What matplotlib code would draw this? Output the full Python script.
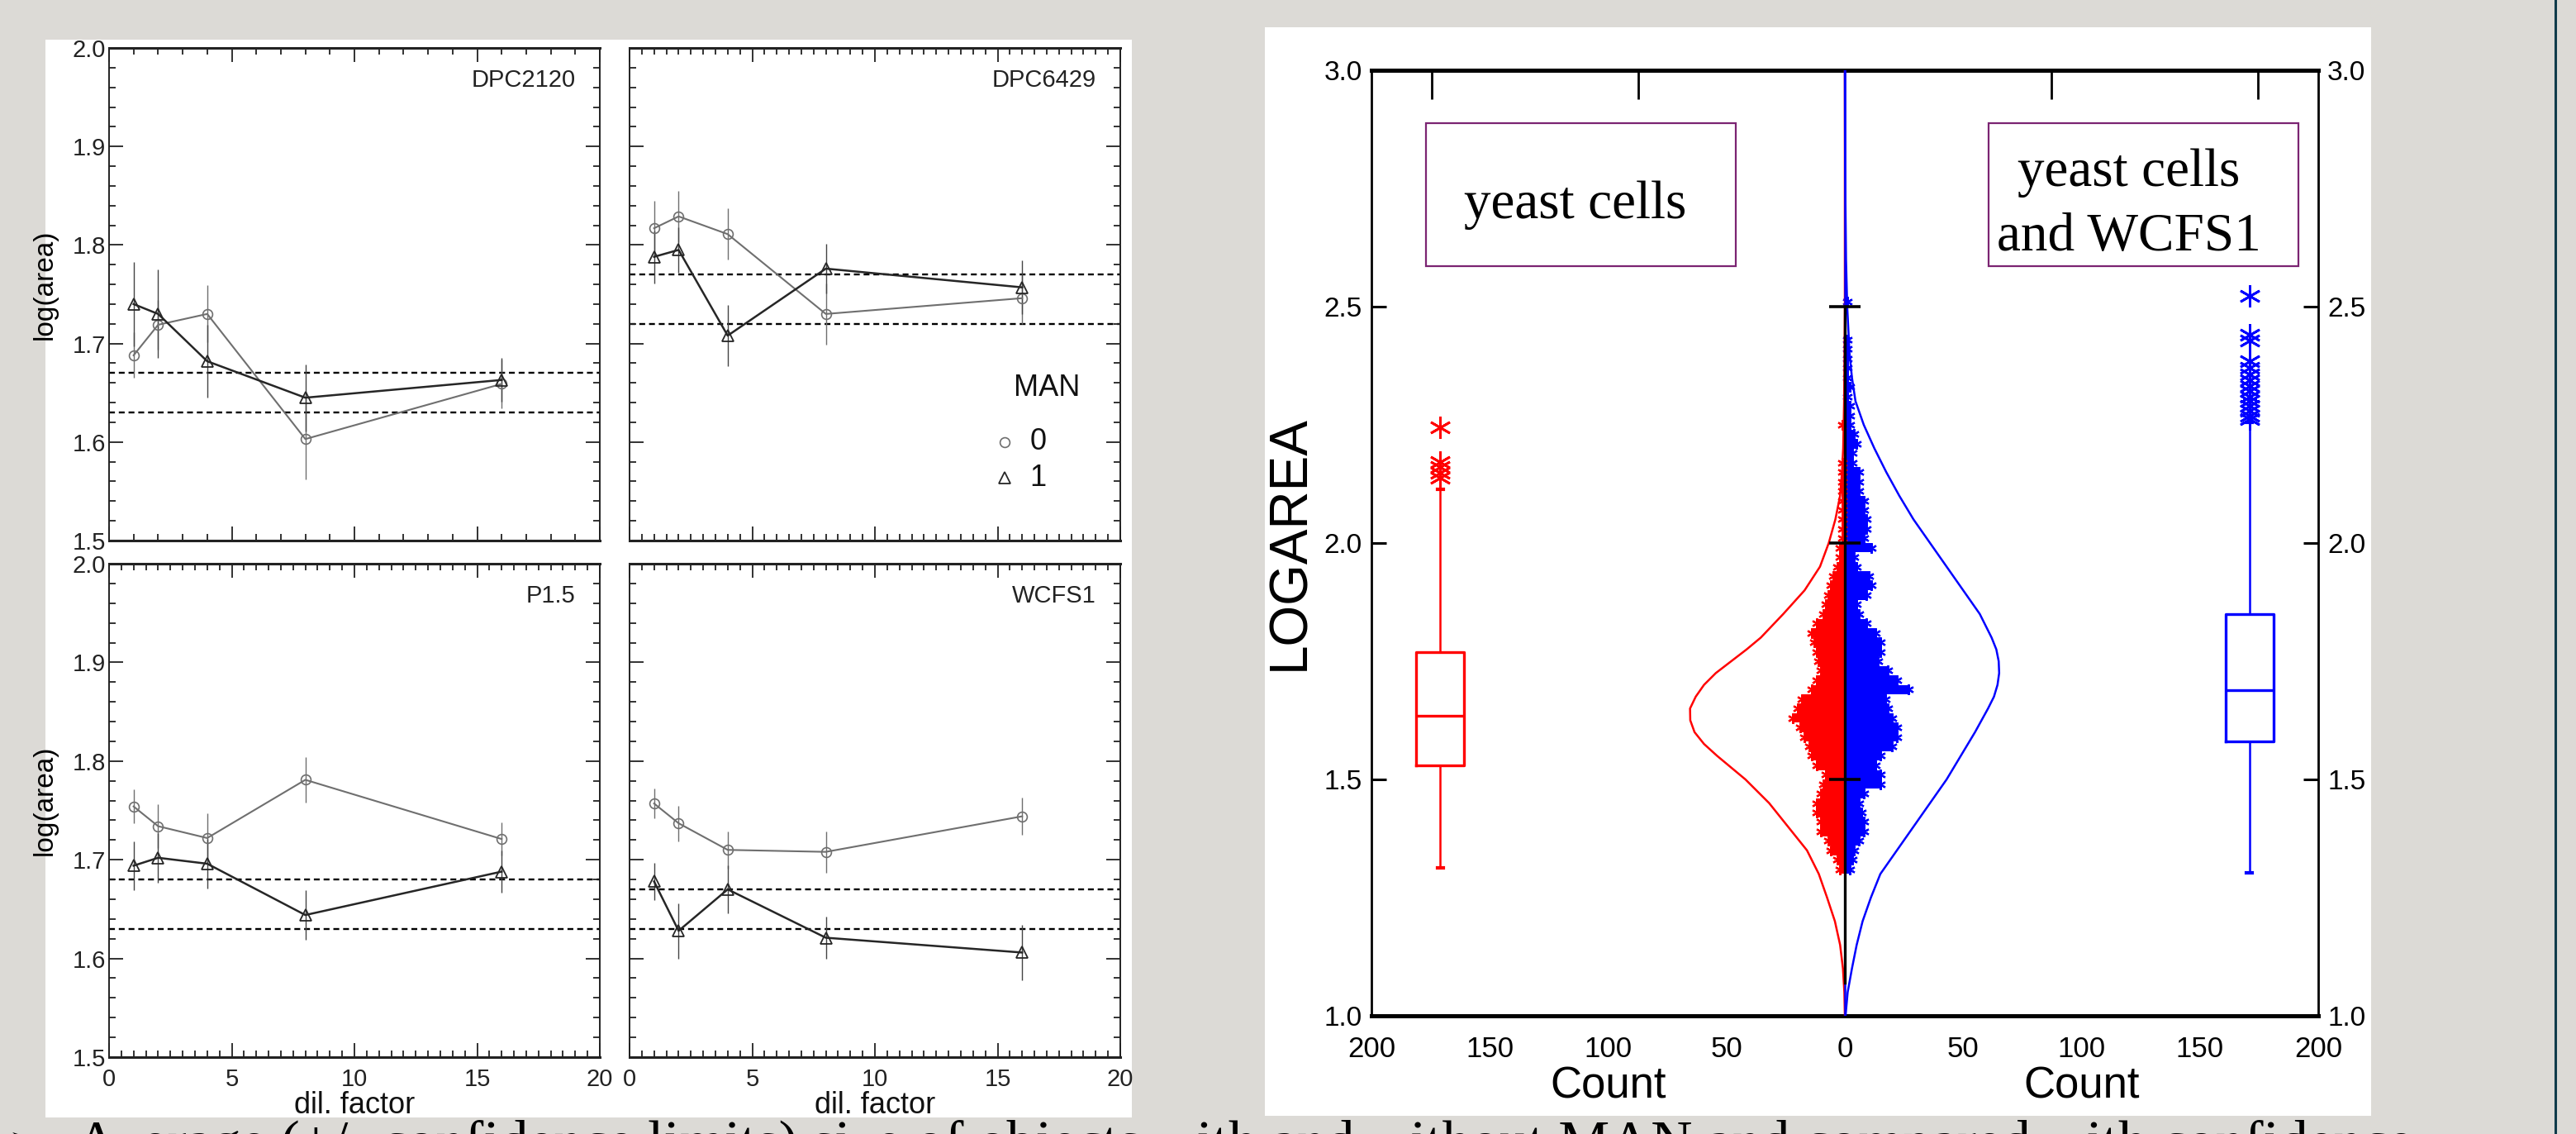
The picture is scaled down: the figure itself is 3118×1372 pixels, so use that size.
import numpy as np
import matplotlib
matplotlib.use('Agg')
import matplotlib.pyplot as plt
from matplotlib.patches import Rectangle
from matplotlib.lines import Line2D
from matplotlib.ticker import MultipleLocator, FixedLocator, FormatStrFormatter, FuncFormatter

# ---------------- data: left panel (log(area) vs dilution factor) ----------------
dil_factor = [1, 2, 4, 8, 16]
panel_names = ['DPC2120', 'DPC6429', 'P1.5', 'WCFS1']
man0_mean = [[1.688, 1.719, 1.730, 1.603, 1.659],
             [1.817, 1.829, 1.811, 1.730, 1.746],
             [1.754, 1.734, 1.722, 1.781, 1.721],
             [1.757, 1.737, 1.710, 1.708, 1.744]]
man0_err = [[0.023, 0.025, 0.029, 0.041, 0.025],
            [0.028, 0.026, 0.026, 0.031, 0.026],
            [0.017, 0.022, 0.025, 0.023, 0.017],
            [0.015, 0.018, 0.019, 0.021, 0.019]]
man1_mean = [[1.740, 1.730, 1.682, 1.645, 1.663],
             [1.788, 1.795, 1.708, 1.776, 1.757],
             [1.694, 1.702, 1.696, 1.644, 1.688],
             [1.678, 1.628, 1.670, 1.621, 1.606]]
man1_err = [[0.043, 0.045, 0.037, 0.034, 0.022],
            [0.027, 0.023, 0.031, 0.025, 0.027],
            [0.025, 0.025, 0.025, 0.025, 0.021],
            [0.019, 0.028, 0.024, 0.021, 0.028]]
ref_lines = [[1.670, 1.630], [1.770, 1.720], [1.680, 1.630], [1.670, 1.630]]
legend_title = 'MAN'
legend_labels = ['0', '1']

# ---------------- data: right panel (back-to-back histogram of LOGAREA) ----------------
bin_centers = np.round(np.arange(1.31, 2.535, 0.02), 2)
red_counts = np.array([2, 3, 6, 7, 10, 10, 12, 12, 10, 9, 8, 12, 14, 15, 17, 19, 22, 20, 18, 14,
                       12, 10, 11, 12, 13, 14, 12, 9, 8, 7, 6, 5, 3, 2, 2, 1, 1, 1, 1, 1,
                       1, 1, 1, 1, 0, 0, 0, 1, 0, 0, 0, 0, 0, 0, 0, 0, 0, 0, 0, 0, 0, 0])
blue_counts = np.array([2, 3, 4, 6, 8, 8, 7, 6, 8, 15, 15, 13, 15, 20, 22, 22, 20, 18, 17, 27,
                        22, 18, 14, 15, 15, 13, 9, 6, 5, 9, 11, 10, 5, 4, 11, 8, 9, 9, 8, 8,
                        6, 6, 6, 3, 3, 5, 4, 2, 2, 2, 1, 2, 1, 1, 1, 1, 1, 0, 0, 0, 1, 0])
assert len(red_counts) == len(bin_centers) == len(blue_counts)

red_curve_y = [1.00, 1.05, 1.10, 1.15, 1.20, 1.25, 1.30, 1.35, 1.40, 1.45, 1.50, 1.55, 1.575,
               1.60, 1.625, 1.65, 1.675, 1.70, 1.725, 1.75, 1.775, 1.80, 1.85, 1.90, 1.95, 2.00,
               2.05, 2.10, 2.15, 2.20, 2.30, 2.50, 3.00]
red_curve_n = [0, 0.2, 0.8, 2.0, 4.2, 7.5, 11, 16, 24, 32, 42, 54, 59.5,
               63.5, 65.3, 65.4, 63, 59.5, 54.5, 48, 41.5, 35.5, 26, 17, 10.5, 6.8,
               4, 2, 1.2, 0.7, 0.3, 0, 0]
blue_curve_y = [1.00, 1.05, 1.10, 1.15, 1.20, 1.25, 1.30, 1.35, 1.40, 1.45, 1.50, 1.55, 1.60,
                1.65, 1.675, 1.70, 1.725, 1.75, 1.775, 1.80, 1.85, 1.90, 1.95, 2.00, 2.05, 2.10,
                2.15, 2.20, 2.25, 2.30, 2.35, 2.40, 2.45, 2.50, 2.60, 2.80, 3.00]
blue_curve_n = [0.3, 1.2, 3, 5, 7.5, 11, 15, 22, 29, 36, 43, 49, 55,
                60.5, 63, 64.5, 65.2, 65, 64, 62, 57, 50, 43, 36, 29, 23,
                17.5, 12.5, 8, 4.5, 3, 2, 1.5, 1, 0.5, 0.1, 0]

red_box = dict(q1=1.529, med=1.634, q3=1.769, whislo=1.313, whishi=2.114,
               fliers=[2.138, 2.148, 2.160, 2.172, 2.245])
blue_box = dict(q1=1.581, med=1.688, q3=1.850, whislo=1.302, whishi=2.255,
                fliers=[2.262, 2.270, 2.280, 2.290, 2.300, 2.310, 2.322, 2.333, 2.344,
                        2.356, 2.370, 2.385, 2.428, 2.441, 2.523])
box_positions = [-171, 171]
count_ticks = [-200, -150, -100, -50, 0, 50, 100, 150, 200]
top_ticks = [-174.5, -87.2, 87.2, 174.5]
center_marks = [1.5, 2.0, 2.5]
box_labels = ['yeast cells', 'yeast cells\nand WCFS1']
bottom_text = 'Average (+/- confidence limits) size of objects with and without MAN and compared with confidence'

# ---------------- figure ----------------
W, H = 3118, 1372
SANS = ['Liberation Sans', 'DejaVu Sans']
NARROW = ['Liberation Sans Narrow', 'DejaVu Sans Condensed', 'Liberation Sans', 'DejaVu Sans']
SERIF = ['Liberation Serif', 'DejaVu Serif']
plt.rcParams['font.family'] = NARROW

fig = plt.figure(figsize=(W / 100, H / 100), dpi=100)
fig.patch.set_facecolor('#dcdad6')


def rect_px(x0, y0, x1, y1):
    return [x0 / W, 1 - y1 / H, (x1 - x0) / W, (y1 - y0) / H]


def add_bg(x0, y0, x1, y1, color, z=-5):
    fig.add_artist(Rectangle((x0 / W, 1 - y1 / H), (x1 - x0) / W, (y1 - y0) / H,
                             transform=fig.transFigure, facecolor=color,
                             edgecolor='none', zorder=z))


add_bg(55, 48, 1370, 1352, 'white')
add_bg(1531, 33, 2870, 1350, 'white')
fig.add_artist(Line2D([3093 / W, 3093 / W], [0, 1], transform=fig.transFigure,
                      color='#0f3b4a', lw=2.2, zorder=-4))

# ---------------- left 2x2 panel ----------------
boxes = [(132, 58, 726, 654), (762, 58, 1356, 654), (132, 682, 726, 1279), (762, 682, 1356, 1279)]
c0, c1 = '#6f6f6f', '#262626'
for i, box in enumerate(boxes):
    ax = fig.add_axes(rect_px(*box))
    ax.set_xlim(0, 20)
    ax.set_ylim(1.5, 2.0)
    for yv in ref_lines[i]:
        ax.axhline(yv, color='black', lw=1.7, ls=(0, (3.0, 2.0)), zorder=1)
    ax.errorbar(dil_factor, man0_mean[i], yerr=man0_err[i], color=c0, lw=1.5, marker='o', ms=8.5,
                mfc='none', mec=c0, mew=1.2, elinewidth=1.0, capsize=0, zorder=3)
    ax.errorbar(dil_factor, man1_mean[i], yerr=man1_err[i], color=c1, lw=1.8, marker='^', ms=9.5,
                mfc='none', mec=c1, mew=1.3, elinewidth=1.0, ecolor='#444444', capsize=0, zorder=3)
    ax.text(0.95, 0.934, panel_names[i], transform=ax.transAxes, ha='right', va='center',
            fontsize=21, color='#222222')
    ax.xaxis.set_major_locator(MultipleLocator(5))
    ax.xaxis.set_minor_locator(MultipleLocator(1 if i == 0 else 0.5))
    ax.yaxis.set_major_locator(MultipleLocator(0.1))
    ax.yaxis.set_minor_locator(MultipleLocator(0.02))
    ax.yaxis.set_major_formatter(FormatStrFormatter('%.1f'))
    ax.tick_params(which='both', direction='in', top=True, right=True, width=1.3, color='#222222')
    ax.tick_params(which='major', length=12)
    ax.tick_params(which='minor', length=5.5)
    ax.tick_params(axis='y', pad=3, labelsize=21, labelcolor='#222222')
    ax.tick_params(axis='x', pad=9, labelsize=21, labelcolor='#222222')
    ax.tick_params(labelleft=(i % 2 == 0), labelbottom=(i >= 2))
    for s in ax.spines.values():
        s.set_linewidth(1.4)
        s.set_color('#222222')
    ax.spines['top'].set_linewidth(2.2)
    ax.spines['bottom'].set_linewidth(2.2)
    if i % 2 == 0:
        ax.set_ylabel('log(area)', family=SANS, fontsize=24)
        ax.yaxis.set_label_coords(-0.105, 0.52)
    if i >= 2:
        ax.set_xlabel('dil. factor', fontsize=26, color='#111111')
        ax.xaxis.set_label_coords(0.5, -0.068)
    if i == 1:
        ax.text(0.85, 0.31, legend_title, transform=ax.transAxes, ha='center', va='center',
                fontsize=26, color='#111111')
        ax.plot([0.764], [0.20], transform=ax.transAxes, marker='o', ms=8.5, mfc='none',
                mec=c0, mew=1.2, ls='none')
        ax.plot([0.764], [0.127], transform=ax.transAxes, marker='^', ms=9.5, mfc='none',
                mec=c1, mew=1.3, ls='none')
        ax.text(0.832, 0.20, legend_labels[0], transform=ax.transAxes, ha='center',
                va='center', fontsize=26, color='#111111')
        ax.text(0.832, 0.127, legend_labels[1], transform=ax.transAxes, ha='center',
                va='center', fontsize=26, color='#111111')

# ---------------- right panel ----------------
axR = fig.add_axes(rect_px(1660, 85, 2806, 1229))
axR.set_xlim(-200, 200)
axR.set_ylim(1.0, 3.0)
axR.set_facecolor('white')

# histogram (dot-stacked bars)
axR.barh(bin_centers, -red_counts, height=0.02, color='red', lw=0, zorder=2)
axR.barh(bin_centers, blue_counts, height=0.02, color='blue', lw=0, zorder=2)
nzr = red_counts > 0
nzb = blue_counts > 0
axR.plot(-red_counts[nzr], bin_centers[nzr], ls='none', marker=(6, 2, 0), ms=9, mec='red',
         mew=1.6, zorder=2)
axR.plot(blue_counts[nzb], bin_centers[nzb], ls='none', marker=(6, 2, 0), ms=9, mec='blue',
         mew=1.6, zorder=2)

# fitted normal curves
axR.plot(-np.array(red_curve_n), red_curve_y, color='red', lw=1.8, zorder=3)
axR.plot(np.array(blue_curve_n), blue_curve_y, color='blue', lw=1.8, zorder=3)

# centre line and its ticks
axR.axvline(0, color='blue', lw=1.8, zorder=4)
axR.plot([0, 0], [1.07, 2.5], color='black', lw=2.4, zorder=4)
axR.hlines(center_marks, -6.5, 6.5, color='black', lw=2.6, zorder=5)

# box plots
for stats, pos, col in [(red_box, box_positions[0], 'red'), (blue_box, box_positions[1], 'blue')]:
    axR.bxp([stats], positions=[pos], widths=20, showfliers=True, capwidths=[2.5],
            boxprops=dict(color=col, lw=2.4), medianprops=dict(color=col, lw=2.4),
            whiskerprops=dict(color=col, lw=1.8), capprops=dict(color=col, lw=3),
            flierprops=dict(marker=(6, 2, 0), ms=19, mec=col, mew=2.0, ls='none'),
            manage_ticks=False, zorder=3)

# text boxes
for (x0, lab, xc) in [(0.058, box_labels[0], 0.215), (0.652, box_labels[1], 0.80)]:
    axR.add_patch(Rectangle((x0, 0.793), 0.327, 0.151, transform=axR.transAxes, fill=False,
                            ec='#7b2472', lw=1.6, zorder=6))
    axR.text(xc, 0.857, lab, transform=axR.transAxes, ha='center', va='center',
             family=SERIF, fontsize=47, linespacing=1.4, zorder=6)

# axes, ticks, labels
for s in axR.spines.values():
    s.set_linewidth(2.0)
axR.spines['top'].set_linewidth(3.6)
axR.spines['bottom'].set_linewidth(3.6)
axR.xaxis.set_major_locator(FixedLocator(count_ticks))
axR.xaxis.set_major_formatter(FuncFormatter(lambda v, p: '%d' % abs(v)))
axR.xaxis.set_minor_locator(FixedLocator([t for t in count_ticks if abs(t) not in (0, 200)]))
axR.tick_params(axis='x', which='major', length=0, pad=17, labelsize=25, labelfontfamily='Liberation Sans')
axR.tick_params(axis='x', which='minor', direction='in', length=27, width=2.0, bottom=True, top=False)
axR.yaxis.set_major_locator(MultipleLocator(0.5))
axR.yaxis.set_major_formatter(FormatStrFormatter('%.1f'))
axR.tick_params(axis='y', direction='in', length=13, width=2.2, left=True, right=True,
                labelleft=True, labelright=True, pad=8, labelsize=24, labelfontfamily='Liberation Sans')
sec = axR.secondary_xaxis('top')
sec.xaxis.set_major_locator(FixedLocator(top_ticks))
sec.tick_params(axis='x', direction='in', length=25, width=2.0, labeltop=False)
sec.spines['top'].set_visible(False)

for xv in (-100, 100):
    axR.text(xv, -0.075, 'Count', transform=axR.get_xaxis_transform(), ha='center', va='center',
             family=SANS, fontsize=38)
axR.text(-0.086, 0.5, 'LOGAREA', transform=axR.transAxes, rotation=90, ha='center', va='center',
         family=SANS, fontsize=46)

# ---------------- slide text (cut by the frame) ----------------
fig.text(8 / W, 1 - 1404 / H, '\u27a2', family=['DejaVu Sans'], fontsize=46, va='baseline')
fig.text(92 / W, 1 - 1404 / H, bottom_text, family=SERIF, fontsize=50, va='baseline', color='black')

fig.savefig('out.png', dpi=100, facecolor=fig.get_facecolor())
